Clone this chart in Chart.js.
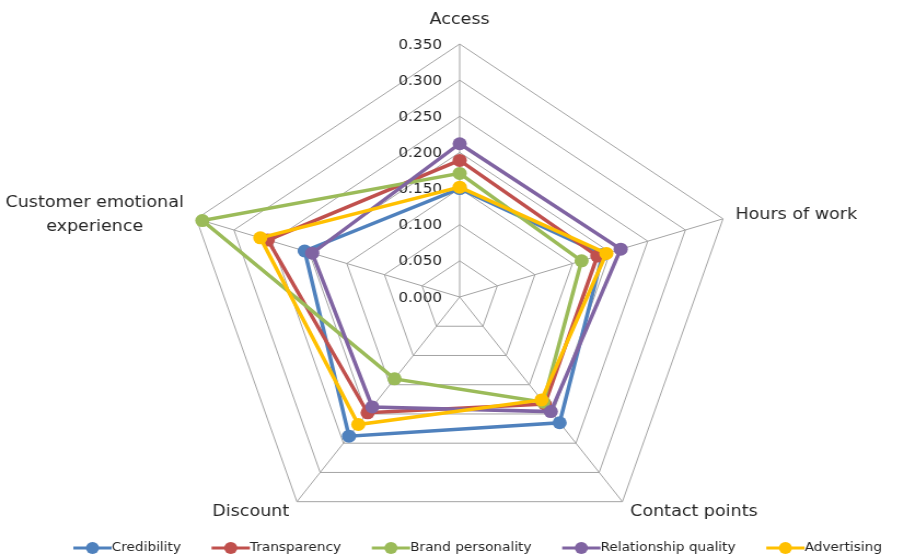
<!DOCTYPE html>
<html>
<head>
<meta charset="utf-8">
<script src="https://cdn.jsdelivr.net/npm/chart.js"></script>
<style>
  html, body { margin: 0; padding: 0; background: #fff; }
  #radar { display: block; }
</style>
</head>
<body>
<!-- the source picture is stretched sideways, so the canvas is too -->
<canvas id="radar" width="826" height="558" style="width:904px;height:558px"></canvas>
<script>
  // data
  const categories = ['Access', 'Hours of work', 'Contact points', 'Discount', ['Customer emotional', 'experience']];
  const seriesNames = ['Credibility', 'Transparency', 'Brand personality', 'Relationship quality', 'Advertising'];
  const credibility = [0.150, 0.190, 0.215, 0.238, 0.206];
  const transparency = [0.189, 0.183, 0.183, 0.198, 0.255];
  const brandPersonality = [0.171, 0.162, 0.180, 0.140, 0.342];
  const relationshipQuality = [0.212, 0.214, 0.196, 0.188, 0.196];
  const advertising = [0.152, 0.195, 0.176, 0.218, 0.265];
  const seriesColors = ['#4f81bd', '#c0504d', '#9bbb59', '#8064a2', '#ffc000'];
  const scaleMin = 0, scaleMax = 0.35, scaleStep = 0.05;

  const centerX = 420, centerY = 297, radius = 253;
  const textColor = '#262626';
  const gridColor = '#a3a3a3';

  const values = [credibility, transparency, brandPersonality, relationshipQuality, advertising];

  const datasets = seriesNames.map((name, i) => ({
    label: name,
    data: values[i],
    borderColor: seriesColors[i],
    backgroundColor: seriesColors[i],
    pointBackgroundColor: seriesColors[i],
    pointBorderColor: seriesColors[i],
    pointRadius: 6.5,
    pointBorderWidth: 0,
    borderWidth: 3.5,
    fill: false,
    order: seriesNames.length - i   // last series on top, like Excel
  }));

  const extras = {
    id: 'extras',
    beforeDatasetsDraw(chart) {
      // tick labels, left of the vertical axis
      const r = chart.scales.r;
      const ctx = chart.ctx;
      ctx.save();
      ctx.font = '14px "DejaVu Sans"';
      ctx.fillStyle = textColor;
      ctx.textAlign = 'right';
      ctx.textBaseline = 'middle';
      r.ticks.forEach(t => {
        const y = r.yCenter - r.getDistanceFromCenterForValue(t.value);
        ctx.fillText(t.value.toFixed(3), r.xCenter - 16, y + 1);
      });
      ctx.restore();
    },
    afterDraw(chart) {
      const r = chart.scales.r;
      const ctx = chart.ctx;
      ctx.save();
      // category labels
      ctx.font = '16px "DejaVu Sans"';
      ctx.fillStyle = textColor;
      ctx.textBaseline = 'middle';
      chart.data.labels.forEach((lab, i) => {
        const lines = Array.isArray(lab) ? lab : [lab];
        const v = r.getPointPosition(i, r.drawingArea);
        const dx = (v.x - r.xCenter) / r.drawingArea;
        const top = Math.abs(dx) < 0.1;
        const p = r.getPointPosition(i, r.drawingArea + (top ? 24 : 12));
        const blockW = Math.max(...lines.map(l => ctx.measureText(l).width));
        let cx;
        if (top) cx = p.x;
        else if (dx > 0) cx = p.x + blockW / 2;
        else cx = p.x - blockW / 2;
        ctx.textAlign = 'center';
        const lh = 24;
        lines.forEach((l, k) => {
          ctx.fillText(l, cx, p.y + (k - (lines.length - 1) / 2) * lh);
        });
      });
      // legend
      ctx.font = '12.5px "DejaVu Sans"';
      ctx.textAlign = 'left';
      const ly = 548;
      let x = 67;
      chart.data.datasets.forEach(ds => {
        ctx.strokeStyle = ds.borderColor;
        ctx.lineWidth = 3;
        ctx.beginPath();
        ctx.moveTo(x, ly);
        ctx.lineTo(x + 35, ly);
        ctx.stroke();
        ctx.fillStyle = ds.borderColor;
        ctx.beginPath();
        ctx.arc(x + 17.5, ly, 6, 0, Math.PI * 2);
        ctx.fill();
        ctx.fillStyle = textColor;
        ctx.fillText(ds.label, x + 35, ly);
        x += 35 + ctx.measureText(ds.label).width + 28;
      });
      ctx.restore();
    }
  };

  new Chart(document.getElementById('radar'), {
    type: 'radar',
    data: { labels: categories, datasets: datasets },
    options: {
      responsive: false,
      animation: false,
      events: [],
      plugins: { legend: { display: false }, tooltip: { enabled: false } },
      scales: {
        r: {
          min: scaleMin,
          max: scaleMax,
          ticks: { stepSize: scaleStep, display: false },
          pointLabels: { display: false },
          grid: { color: gridColor, lineWidth: 1 },
          angleLines: { color: gridColor, lineWidth: 1 },
          afterFit(scale) {
            scale.xCenter = centerX;
            scale.yCenter = centerY;
            scale.drawingArea = radius;
          }
        }
      }
    },
    plugins: [extras]
  });
</script>
</body>
</html>
